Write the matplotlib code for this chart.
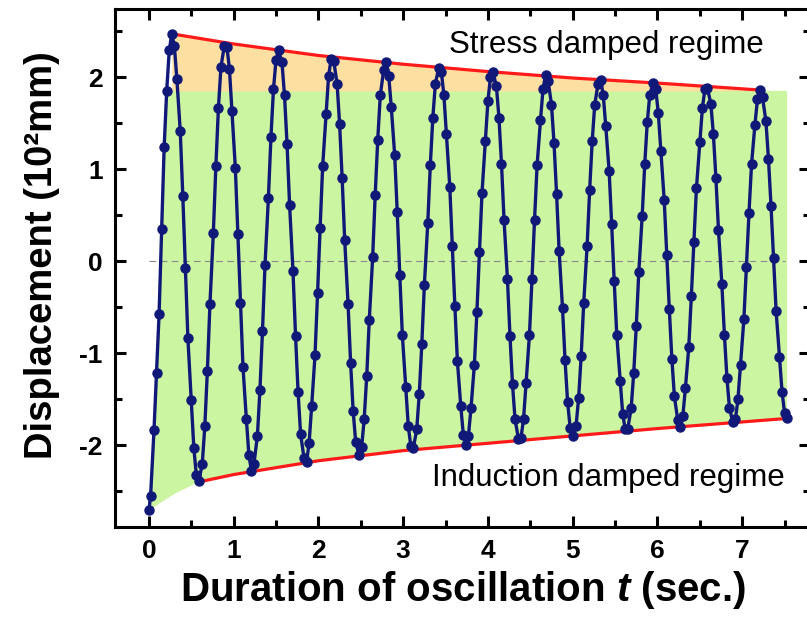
import matplotlib
matplotlib.use('Agg')
import matplotlib.pyplot as plt
from matplotlib.ticker import MultipleLocator

plt.rcParams['font.family'] = ['Liberation Sans', 'DejaVu Sans']
plt.rcParams['mathtext.fontset'] = 'custom'
plt.rcParams['mathtext.it'] = 'Liberation Sans:italic:bold'
plt.rcParams['mathtext.rm'] = 'Liberation Sans:bold'
plt.rcParams['axes.unicode_minus'] = False

time_s = (
    [0.00, 0.02, 0.06, 0.09, 0.12, 0.15, 0.18, 0.21, 0.24]
    + [0.27, 0.30, 0.33, 0.37, 0.40, 0.43, 0.46, 0.50, 0.53, 0.56, 0.59, 0.63, 0.66, 0.69, 0.72, 0.76, 0.79, 0.82, 0.85, 0.89]
    + [0.92, 0.95, 0.98, 1.02, 1.05, 1.08, 1.11, 1.15, 1.18, 1.21, 1.24, 1.28, 1.31, 1.34, 1.37, 1.41, 1.44, 1.47, 1.50]
    + [1.53, 1.57, 1.60, 1.63, 1.66, 1.70, 1.73, 1.76, 1.79, 1.83, 1.86, 1.89, 1.92, 1.96, 1.99, 2.02, 2.05, 2.09, 2.12, 2.15]
    + [2.18, 2.22, 2.25, 2.28, 2.31, 2.35, 2.38, 2.41, 2.44, 2.48, 2.51, 2.54, 2.57, 2.60, 2.64, 2.67, 2.70, 2.73, 2.77]
    + [2.80, 2.83, 2.86, 2.90, 2.93, 2.96, 2.99, 3.03, 3.06, 3.09, 3.12, 3.16, 3.19, 3.22, 3.25, 3.29, 3.32, 3.35, 3.38, 3.42]
    + [3.45, 3.48, 3.51, 3.55, 3.58, 3.61, 3.64, 3.68, 3.71, 3.74, 3.77, 3.80, 3.84, 3.87, 3.90, 3.93, 3.97, 4.00, 4.03]
    + [4.06, 4.10, 4.13, 4.16, 4.19, 4.23, 4.26, 4.29, 4.32, 4.36, 4.39, 4.42, 4.45, 4.49, 4.52, 4.55, 4.58, 4.62, 4.65, 4.68]
    + [4.71, 4.75, 4.78, 4.81, 4.84, 4.88, 4.91, 4.94, 4.97, 5.00, 5.04, 5.07, 5.10, 5.13, 5.17, 5.20, 5.23, 5.26, 5.30]
    + [5.33, 5.36, 5.39, 5.43, 5.46, 5.49, 5.52, 5.56, 5.59, 5.62, 5.65, 5.69, 5.72, 5.75, 5.78, 5.82, 5.85, 5.88, 5.91, 5.95]
    + [5.98, 6.01, 6.04, 6.08, 6.11, 6.14, 6.17, 6.20, 6.24, 6.27, 6.30, 6.33, 6.37, 6.40, 6.43, 6.46, 6.50, 6.53, 6.56]
    + [6.59, 6.63, 6.66, 6.69, 6.72, 6.76, 6.79, 6.82, 6.85, 6.89, 6.92, 6.95, 6.98, 7.02, 7.05, 7.08, 7.11, 7.15, 7.18, 7.21]
    + [7.24, 7.28, 7.31, 7.34, 7.37, 7.40, 7.44, 7.47, 7.50, 7.53]
)
disp = (
    [-2.71, -2.55, -1.84, -1.22, -0.58, 0.35, 1.24, 1.85, 2.29]
    + [2.47, 2.34, 1.98, 1.41, 0.71, -0.07, -0.84, -1.51, -2.03, -2.33, -2.39, -2.20, -1.79, -1.19, -0.47, 0.30, 1.03, 1.66, 2.11, 2.34]
    + [2.33, 2.09, 1.63, 1.01, 0.29, -0.46, -1.15, -1.72, -2.11, -2.28, -2.20, -1.90, -1.40, -0.76, -0.04, 0.69, 1.35, 1.87, 2.19]
    + [2.29, 2.16, 1.80, 1.27, 0.61, -0.11, -0.81, -1.42, -1.88, -2.14, -2.18, -1.98, -1.58, -1.02, -0.35, 0.36, 1.03, 1.60, 2.01, 2.20]
    + [2.18, 1.93, 1.49, 0.90, 0.23, -0.47, -1.11, -1.63, -1.97, -2.11, -2.02, -1.72, -1.25, -0.64, 0.04, 0.72, 1.32, 1.80, 2.08]
    + [2.16, 2.01, 1.67, 1.15, 0.53, -0.15, -0.80, -1.37, -1.79, -2.01, -2.03, -1.83, -1.44, -0.90, -0.26, 0.41, 1.04, 1.56, 1.93, 2.10]
    + [2.06, 1.81, 1.38, 0.81, 0.16, -0.49, -1.09, -1.58, -1.89, -2.00, -1.90, -1.60, -1.13, -0.55, 0.10, 0.74, 1.31, 1.74, 2.00]
    + [2.05, 1.90, 1.56, 1.06, 0.45, -0.19, -0.81, -1.34, -1.72, -1.93, -1.92, -1.72, -1.33, -0.80, -0.19, 0.45, 1.04, 1.53, 1.87, 2.02]
    + [1.96, 1.70, 1.28, 0.73, 0.11, -0.51, -1.08, -1.53, -1.81, -1.90, -1.79, -1.49, -1.03, -0.46, 0.16, 0.77, 1.30, 1.70, 1.93]
    + [1.97, 1.81, 1.47, 0.98, 0.40, -0.22, -0.80, -1.30, -1.66, -1.83, -1.82, -1.60, -1.22, -0.71, -0.12, 0.49, 1.05, 1.51, 1.81, 1.94]
    + [1.87, 1.61, 1.20, 0.66, 0.07, -0.52, -1.06, -1.47, -1.73, -1.80, -1.68, -1.38, -0.93, -0.38, 0.21, 0.79, 1.29, 1.66, 1.87]
    + [1.88, 1.71, 1.38, 0.90, 0.34, -0.25, -0.80, -1.27, -1.60, -1.75, -1.72, -1.50, -1.13, -0.63, -0.06, 0.52, 1.05, 1.48, 1.76, 1.86]
    + [1.78, 1.52, 1.11, 0.60, 0.03, -0.54, -1.04, -1.42, -1.65, -1.71]
)

# red envelopes
upper_t = [0.27, 1.0, 2.0, 3.0, 4.0, 5.0, 6.0, 7.2]
upper_y = [2.47, 2.36, 2.235, 2.14, 2.06, 1.99, 1.935, 1.86]
lower_t = [0.59, 1.0, 2.0, 3.0, 4.0, 5.0, 6.0, 7.53]
lower_y = [-2.40, -2.32, -2.17, -2.06, -1.98, -1.90, -1.82, -1.71]

# lower-left edge of the green region and its flat top
edge_t = [0.0, 0.3, 0.59]
edge_y = [-2.71, -2.53, -2.40]
green_top = 1.85

navy = '#101878'
red = '#ff1a1a'
green = '#ccf5a2'
orange = '#fddfa2'

fig = plt.figure(figsize=(8.07, 6.17), dpi=100)
ax = fig.add_axes([115 / 807, 90 / 617, 695 / 807, 518 / 617])

# green region: rising start of the curve, flat top, lower envelope, lower-left edge
n_rise = 0
while disp[n_rise] <= green_top:
    n_rise += 1
poly_x = time_s[:n_rise] + [lower_t[-1]] + lower_t[::-1] + edge_t[::-1]
poly_y = disp[:n_rise] + [green_top] + lower_y[::-1] + edge_y[::-1]
ax.fill(poly_x, poly_y, color=green, lw=0, zorder=1)
ax.fill_between(upper_t, green_top, upper_y, color=orange, lw=0, zorder=1)

ax.hlines(0, 0, 7.5, colors='#8a8a8a', linestyles=(0, (6, 4)), lw=0.8, zorder=2)
ax.plot(upper_t, upper_y, color=red, lw=2.3, zorder=3)
ax.plot(lower_t, lower_y, color=red, lw=2.3, zorder=3)
ax.plot(time_s, disp, '-o', color=navy, lw=2.4, ms=6.5, zorder=4)

ax.text(5.40, 2.35, 'Stress damped regime', fontsize=22.5, ha='center', va='center')
ax.text(5.42, -2.36, 'Induction damped regime', fontsize=22.5, ha='center', va='center')

ax.set_xlim(-0.4, 7.8)
ax.set_ylim(-2.89, 2.74)
ax.set_xticks(range(8))
ax.set_yticks([-2, -1, 0, 1, 2])
ax.xaxis.set_minor_locator(MultipleLocator(0.5))
ax.yaxis.set_minor_locator(MultipleLocator(0.5))
ax.tick_params(which='both', direction='in', top=True, right=True, width=2.2,
               labelsize=19, pad=9)
ax.tick_params(which='major', length=8)
ax.tick_params(which='minor', length=5)
plt.setp(ax.get_xticklabels() + ax.get_yticklabels(), fontweight='bold')
for sp in ax.spines.values():
    sp.set_linewidth(2.2)

ax.set_xlabel('Duration of oscillation $t$ (sec.)', fontsize=29, fontweight='bold', labelpad=4)
ax.set_ylabel('Displacement (10²mm)', fontsize=27.5, fontweight='bold')
ax.yaxis.set_label_coords(-0.079, 0.525)

fig.savefig('out.png', dpi=100)
